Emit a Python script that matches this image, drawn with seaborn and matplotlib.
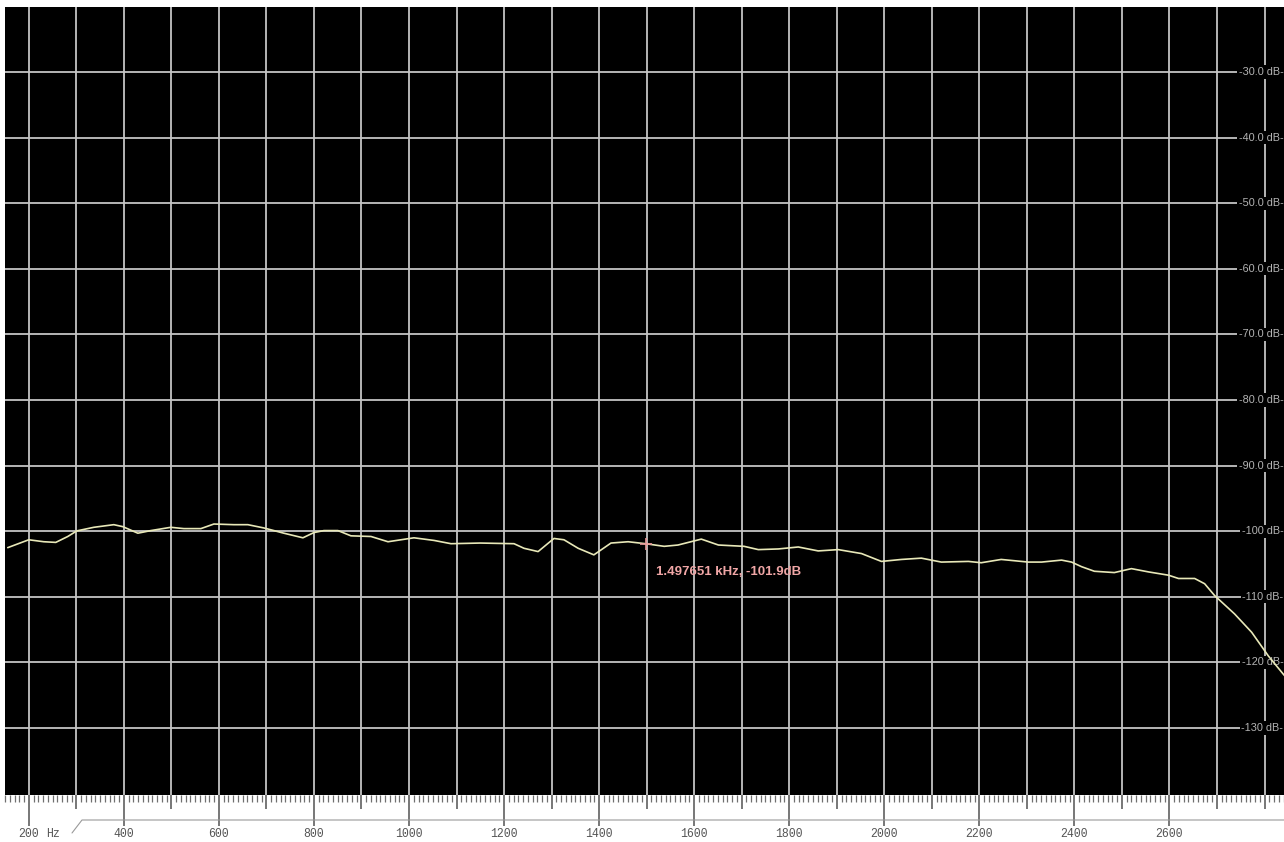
import numpy as np
import pandas as pd
import seaborn as sns
import matplotlib.pyplot as plt
from matplotlib.lines import Line2D

# Measured spectrum (frequency in Hz, level in dB)
freq_hz = [155.8, 200, 231.6, 256.8, 282.1, 301, 336.8, 378.9, 397.9, 429.5,
           456.8, 498.9, 526.3, 562.1, 589.5, 631.6, 661, 694.7, 736.8, 776.8,
           800, 821, 850.5, 877.9, 920, 955.8, 1010.5, 1052.6, 1088.4, 1150,
           1221, 1242, 1271.6, 1305, 1326, 1356, 1389, 1425, 1461, 1497.651,
           1537, 1566, 1615, 1651, 1705, 1735, 1777, 1819, 1861, 1903,
           1952, 1994, 2036, 2078, 2120, 2177, 2204, 2246, 2303, 2331,
           2373, 2394, 2415, 2442, 2484, 2520, 2556, 2598, 2619, 2653,
           2674, 2695, 2737, 2773, 2808, 2842]
level_db = [-102.5, -101.3, -101.6, -101.7, -100.8, -99.95, -99.4, -99.0, -99.3, -100.3,
            -99.9, -99.4, -99.6, -99.6, -98.9, -99.0, -99.0, -99.5, -100.3, -101.0,
            -100.2, -99.9, -99.9, -100.7, -100.8, -101.6, -101.0, -101.4, -101.9, -101.8,
            -101.9, -102.6, -103.1, -101.1, -101.3, -102.6, -103.6, -101.8, -101.6, -101.9,
            -102.3, -102.1, -101.2, -102.1, -102.3, -102.8, -102.7, -102.4, -103.0, -102.8,
            -103.4, -104.6, -104.3, -104.1, -104.7, -104.6, -104.8, -104.3, -104.7, -104.7,
            -104.4, -104.7, -105.4, -106.1, -106.3, -105.7, -106.2, -106.7, -107.2, -107.2,
            -108.0, -109.8, -112.6, -115.4, -119.0, -122.0]

# Cursor readout
cursor_hz = 1497.651
cursor_db = -101.9

# Axis scales
db_levels = [-30, -40, -50, -60, -70, -80, -90, -100, -110, -120, -130]
db_labels = ["-30.0 dB", "-40.0 dB", "-50.0 dB", "-60.0 dB", "-70.0 dB", "-80.0 dB",
             "-90.0 dB", "-100 dB", "-110 dB", "-120 dB", "-130 dB"]
hz_grid = list(range(200, 2801, 100))
hz_labels = [200, 400, 600, 800, 1000, 1200, 1400, 1600, 1800, 2000, 2200, 2400, 2600]

df = pd.DataFrame({"freq": freq_hz, "level": level_db})

sns.set_theme(style="dark")
plt.rcParams["font.family"] = ["Liberation Sans", "DejaVu Sans"]

W, H = 1284, 842
fig = plt.figure(figsize=(W / 100, H / 100), dpi=100, facecolor="white")
ax = fig.add_axes([5 / W, 1 - 795 / H, 1 - 5 / W, 788 / H])
ax.set_facecolor("black")
for s in ax.spines.values():
    s.set_visible(False)

ax.set_xlim(150, 2841)
ax.set_ylim(-140.2, -20.1)

# grid
for f in hz_grid:
    ax.axvline(f, color="#c4c4c4", lw=1.3, zorder=1)
for d in db_levels:
    ax.axhline(d, color="#c4c4c4", lw=1.3, zorder=1)

# spectrum trace
sns.lineplot(data=df, x="freq", y="level", ax=ax, color="#e8e8b8", lw=1.2,
             zorder=5, legend=False)
ax.set_xlabel("")
ax.set_ylabel("")

# dB scale written inside the plot at the right edge
ytr = ax.get_yaxis_transform()
for d, lab in zip(db_levels, db_labels):
    ax.text(0.9995, d, lab + "-", transform=ytr, ha="right", va="center",
            fontsize=7.8, color="#b4b4b4", zorder=3,
            bbox=dict(boxstyle="square,pad=0.15", fc="black", ec="none"))

# cursor
ax.plot([cursor_hz], [cursor_db], marker="+", ms=9, mew=1.2, color="#e89a9a", zorder=6)
ax.annotate(f"{cursor_hz / 1000:.6f} kHz, {cursor_db:.1f}dB", (cursor_hz, cursor_db),
            xytext=(7.5, -20.5), textcoords="offset points", ha="left", va="center",
            fontsize=9.5, fontweight="bold", color="#f0a6a6", zorder=7)

# frequency ruler below the plot
ax.set_yticks([])
ax.set_xticks(hz_grid)
ax.set_xticks(list(range(150, 2841, 10)), minor=True)
ax.set_xticklabels([str(f) if f in hz_labels else "" for f in hz_grid],
                   family="Liberation Mono", fontsize=8.3, color="#555555")
ax.tick_params(axis="x", which="major", direction="out", length=22, width=1.2,
               color="#606060", pad=1.8, bottom=True)
ax.tick_params(axis="x", which="minor", direction="out", length=5, width=0.9,
               color="#707070", bottom=True)
for f, t in zip(hz_grid, ax.xaxis.get_major_ticks()):
    if f not in hz_labels:
        t.tick1line.set_markersize(10)

# unit and baseline of the ruler
fig.text(46 / W, 1 - 834 / H, "Hz", family="Liberation Mono", fontsize=8.3,
         color="#555555", ha="left", va="center")
fig.add_artist(Line2D([72 / W, 82 / W, 1.0], [1 - 833 / H, 1 - 820 / H, 1 - 820 / H],
                      color="#9a9a9a", lw=0.8))

fig.savefig("out.png", dpi=100, facecolor="white")
